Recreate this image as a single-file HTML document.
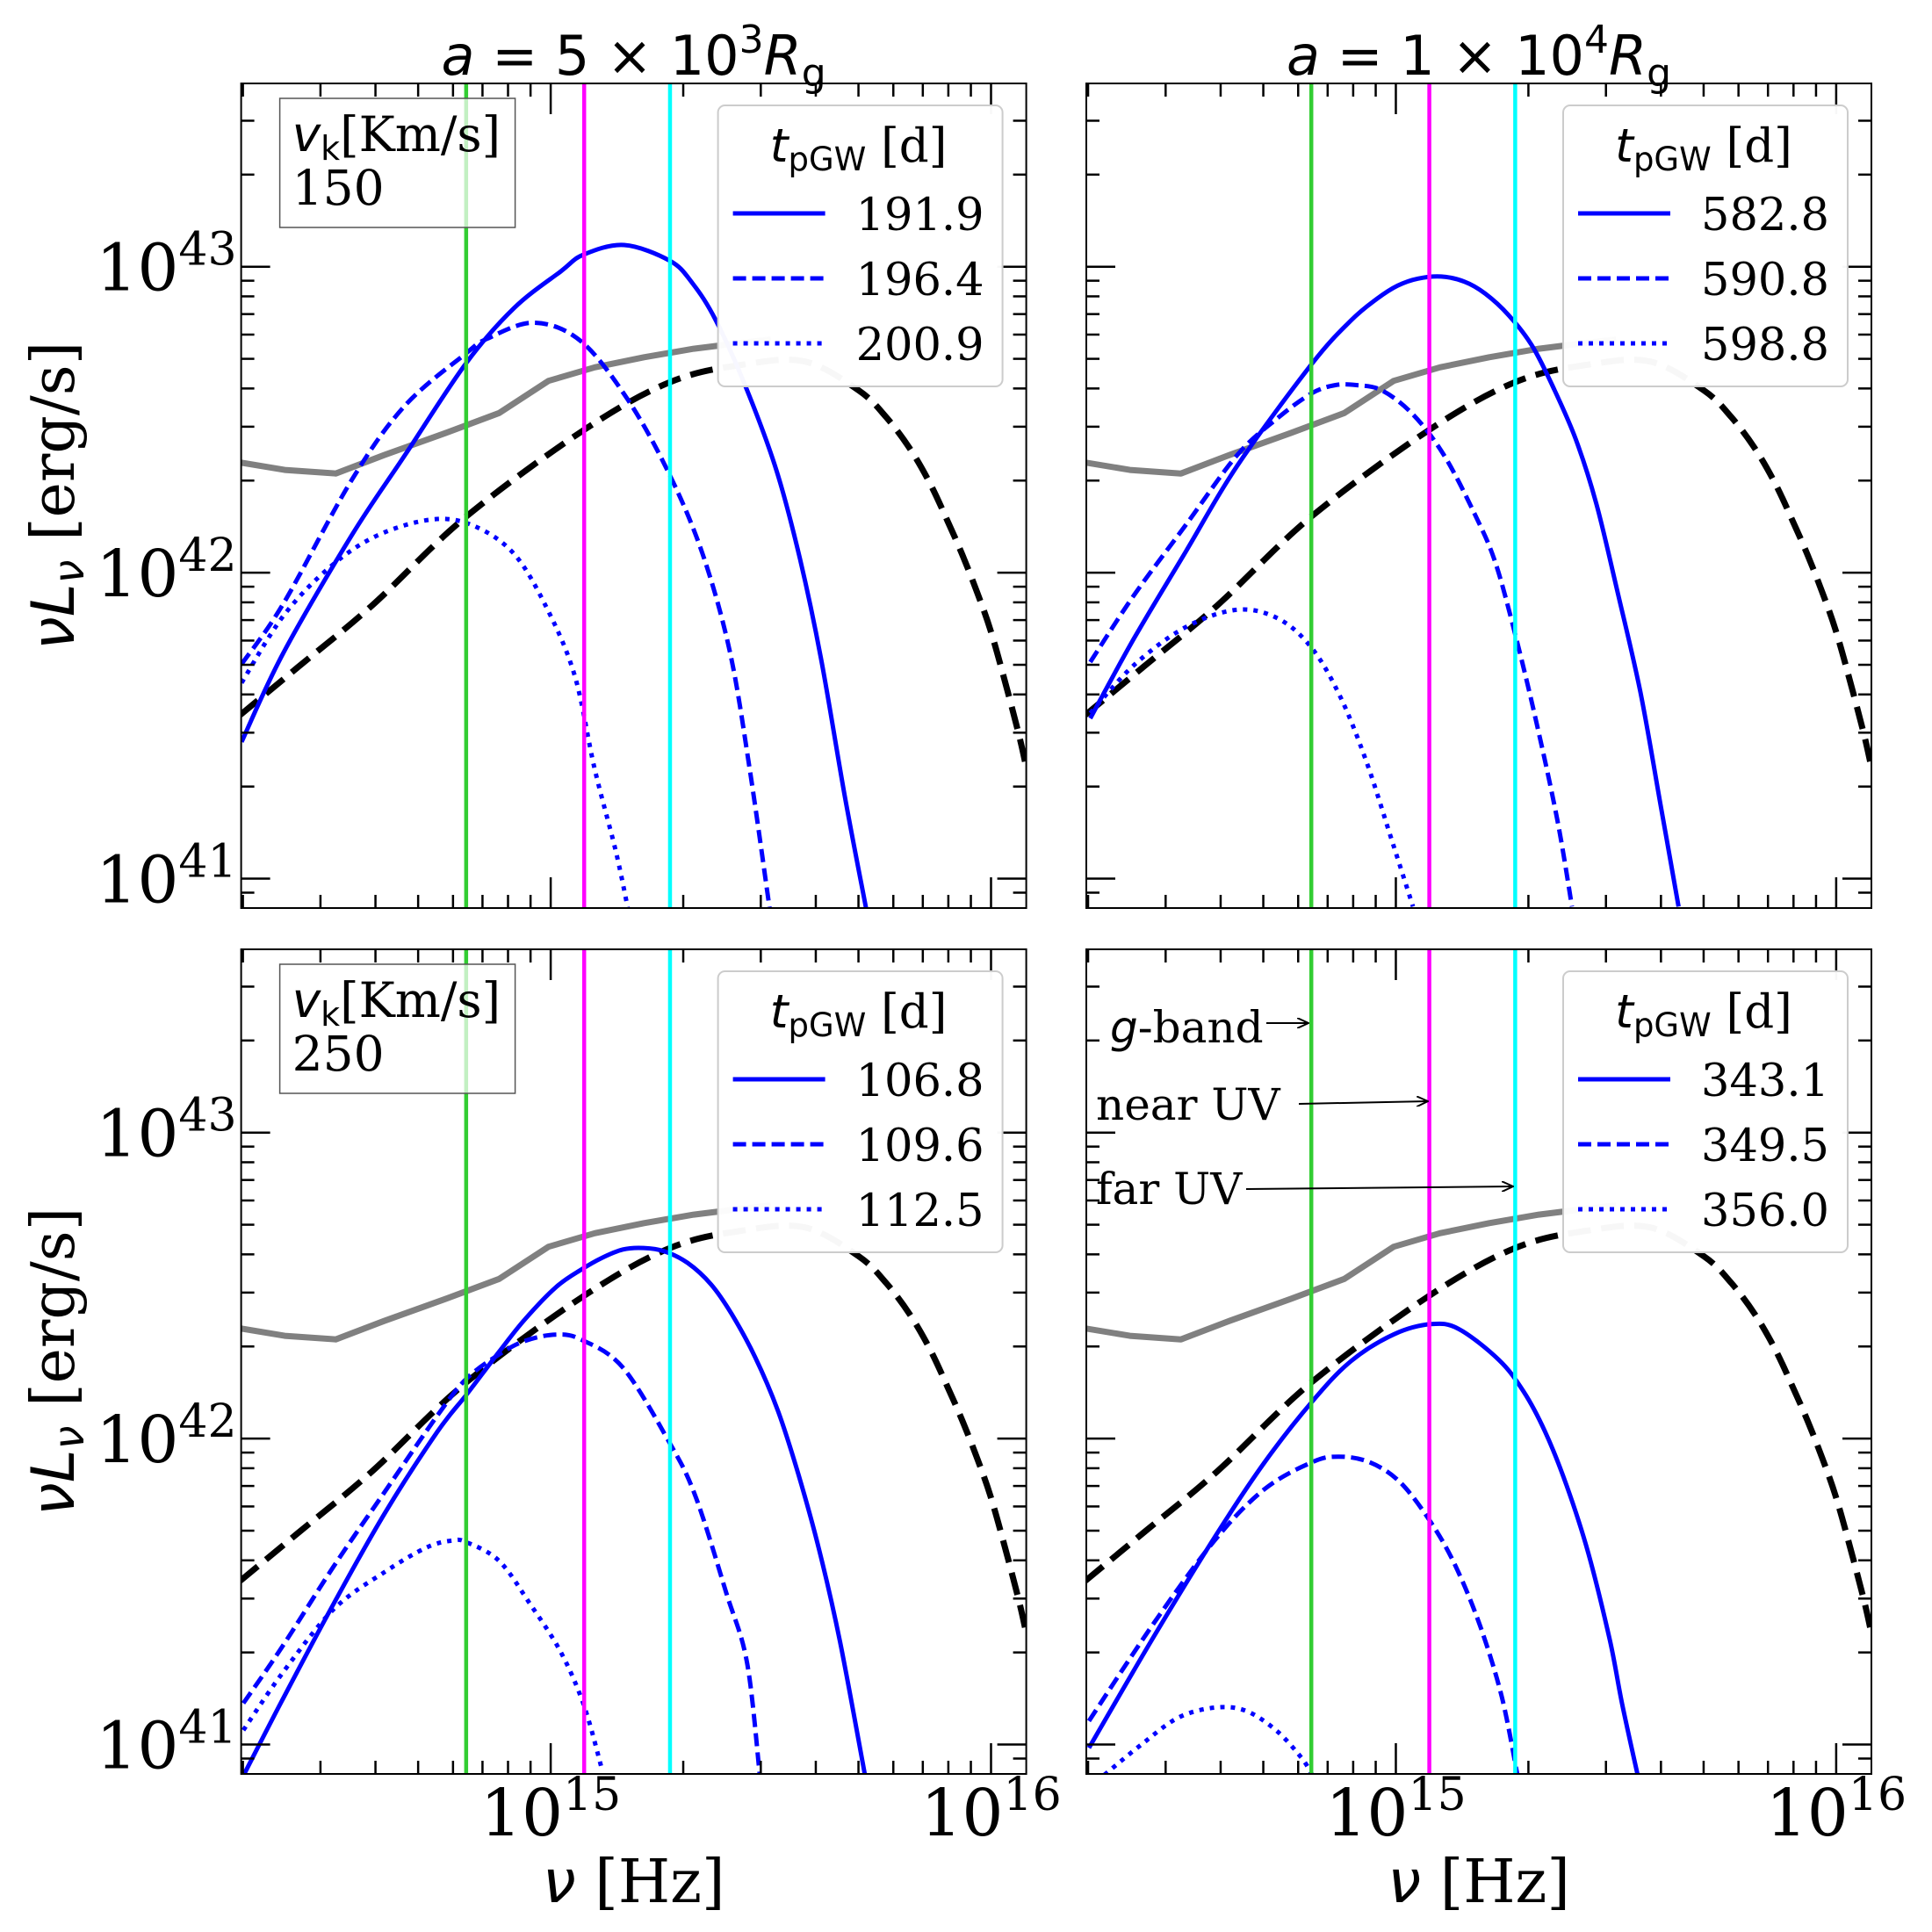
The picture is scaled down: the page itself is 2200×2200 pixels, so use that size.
<!DOCTYPE html>
<html><head><meta charset="utf-8"><style>
html,body{margin:0;padding:0;background:#fff;}
svg{display:block;}
.serif{font-family:"DejaVu Serif","Liberation Serif",serif;}
.sans{font-family:"DejaVu Sans","Liberation Sans",sans-serif;}
</style></head><body>
<svg id="chart" xmlns="http://www.w3.org/2000/svg" width="2200" height="2200" viewBox="0 0 2200 2200">
<rect width="2200" height="2200" fill="#fff"/>
</svg>
<script>
// ---- data (log10 nu [Hz], log10 nuLnu [erg/s]) ----
const grayNu = [14.295,14.396,14.512,14.621,14.762,14.883,14.995,15.100,15.212,15.325,15.437,15.500];
const grayL  = [42.360,42.336,42.324,42.384,42.457,42.522,42.627,42.671,42.704,42.732,42.752,42.762];
const blackNu = [14.295,14.424,14.593,14.807,15.074,15.271,15.437,15.578,15.700,15.762,15.816,15.861,15.901,15.935,15.969,15.999,16.029,16.063,16.079];
const blackL  = [41.535,41.689,41.891,42.182,42.465,42.623,42.680,42.690,42.595,42.508,42.405,42.293,42.170,42.058,41.934,41.811,41.659,41.472,41.370];
const vlineNu = [14.808,15.076,15.271];
const xTickLabels = ['15','16'];
const yTickLabels = ['41','42','43'];
// panel 1: a=5e3, vk=150
const p1SolidNu = [14.298,14.393,14.548,14.669,14.807,14.917,15.024,15.074,15.167,15.271,15.322,15.375,15.445,15.513,15.566,15.614,15.668,15.716];
const p1SolidL  = [41.447,41.738,42.122,42.384,42.683,42.865,42.986,43.039,43.071,43.019,42.946,42.825,42.600,42.333,42.046,41.719,41.269,40.905];
const p1DashNu = [14.298,14.393,14.548,14.669,14.807,14.855,14.962,15.069,15.175,15.269,15.345,15.407,15.452,15.497];
const p1DashL  = [41.701,41.899,42.303,42.546,42.716,42.764,42.817,42.756,42.566,42.323,42.061,41.741,41.358,40.905];
const p1DotNu = [14.298,14.393,14.500,14.607,14.731,14.824,14.917,14.993,15.055,15.100,15.147,15.175];
const p1DotL  = [41.640,41.859,42.020,42.122,42.174,42.154,42.061,41.879,41.661,41.358,41.095,40.905];
const p1Times = ['191.9','196.4','200.9'];
// panel 2: a=1e4, vk=150
const p2SolidNu = [14.306,14.406,14.523,14.640,14.810,14.898,14.957,15.004,15.050,15.103,15.156,15.203,15.256,15.308,15.355,15.408,15.455,15.502,15.555,15.601,15.642];
const p2SolidL  = [41.524,41.787,42.069,42.350,42.684,42.824,42.895,42.938,42.961,42.968,42.951,42.912,42.842,42.745,42.613,42.438,42.227,41.946,41.612,41.243,40.909];
const p2DashNu = [14.306,14.406,14.523,14.640,14.734,14.810,14.863,14.910,14.968,15.039,15.109,15.179,15.226,15.273,15.320,15.367,15.400];
const p2DashL  = [41.708,41.928,42.156,42.385,42.508,42.587,42.613,42.613,42.596,42.517,42.385,42.192,42.033,41.787,41.506,41.190,40.909];
const p2DotNu = [14.306,14.406,14.523,14.640,14.734,14.810,14.874,14.933,14.992,15.039];
const p2DotL  = [41.541,41.699,41.822,41.879,41.849,41.752,41.594,41.383,41.120,40.909];
const p2Times = ['582.8','590.8','598.8'];
// panel 3: a=5e3, vk=250
const p3SolidNu = [14.302,14.390,14.507,14.624,14.742,14.809,14.883,14.941,15.012,15.070,15.117,15.164,15.211,15.258,15.311,15.364,15.411,15.464,15.516,15.563,15.610,15.657,15.714];
const p3SolidL  = [40.898,41.144,41.460,41.758,42.021,42.144,42.284,42.389,42.495,42.553,42.591,42.618,42.623,42.612,42.574,42.504,42.407,42.267,42.091,41.881,41.635,41.337,40.898];
const p3DashNu = [14.302,14.390,14.507,14.624,14.742,14.809,14.883,14.941,15.012,15.070,15.164,15.270,15.329,15.399,15.446,15.475];
const p3DashL  = [41.135,41.319,41.582,41.828,42.074,42.196,42.275,42.319,42.340,42.323,42.232,41.986,41.811,41.495,41.267,40.898];
const p3DotNu = [14.302,14.390,14.507,14.624,14.718,14.777,14.809,14.883,14.953,15.023,15.076,15.117];
const p3DotL  = [41.047,41.232,41.442,41.565,41.644,41.667,41.661,41.600,41.460,41.302,41.126,40.916];
const p3Times = ['106.8','109.6','112.5'];
// panel 4: a=1e4, vk=250
const p4SolidNu = [14.303,14.450,14.590,14.702,14.810,14.898,14.996,15.080,15.143,15.234,15.290,15.339,15.388,15.437,15.486,15.514,15.549];
const p4SolidL  = [40.989,41.352,41.681,41.923,42.121,42.253,42.341,42.374,42.358,42.257,42.154,42.022,41.846,41.626,41.341,41.132,40.901];
const p4DashNu = [14.303,14.450,14.590,14.702,14.810,14.870,14.940,15.010,15.080,15.136,15.192,15.241,15.276];
const p4DashL  = [41.077,41.396,41.670,41.835,41.923,41.941,41.923,41.857,41.725,41.582,41.385,41.154,40.901];
const p4DotNu = [14.338,14.422,14.506,14.590,14.660,14.730,14.786,14.810];
const p4DotL  = [40.901,41.000,41.088,41.121,41.110,41.044,40.956,40.901];
const p4Times = ['343.1','349.5','356.0'];

const XMIN=14.297, XMAX=16.080, YMIN=40.904, YMAX=43.599;
const PW=894, PH=939;
const NS='http://www.w3.org/2000/svg';
const svg=document.getElementById('chart');
function el(tag,attrs,parent){const e=document.createElementNS(NS,tag);for(const k in attrs)e.setAttribute(k,attrs[k]);(parent||svg).appendChild(e);return e;}

function smoothPath(P){
  let d='M'+P[0][0].toFixed(1)+' '+P[0][1].toFixed(1);
  for(let i=0;i<P.length-1;i++){
    const p0=P[Math.max(0,i-1)],p1=P[i],p2=P[i+1],p3=P[Math.min(P.length-1,i+2)];
    const c1=[p1[0]+(p2[0]-p0[0])/6,p1[1]+(p2[1]-p0[1])/6];
    const c2=[p2[0]-(p3[0]-p1[0])/6,p2[1]-(p3[1]-p1[1])/6];
    d+=' C'+c1[0].toFixed(1)+' '+c1[1].toFixed(1)+' '+c2[0].toFixed(1)+' '+c2[1].toFixed(1)+' '+p2[0].toFixed(1)+' '+p2[1].toFixed(1);
  }
  return d;
}
function straightPath(P){return P.map((q,i)=>(i?'L':'M')+q[0].toFixed(1)+' '+q[1].toFixed(1)).join(' ');}

const panels=[
 {id:'p1',x0:274.6,y0:95,left:true,bottom:false,sn:p1SolidNu,sl:p1SolidL,dn:p1DashNu,dl:p1DashL,on:p1DotNu,ol:p1DotL,times:p1Times,vk:'150',title:'5'},
 {id:'p2',x0:1237,y0:95,left:false,bottom:false,sn:p2SolidNu,sl:p2SolidL,dn:p2DashNu,dl:p2DashL,on:p2DotNu,ol:p2DotL,times:p2Times,title:'1'},
 {id:'p3',x0:274.6,y0:1081,left:true,bottom:true,sn:p3SolidNu,sl:p3SolidL,dn:p3DashNu,dl:p3DashL,on:p3DotNu,ol:p3DotL,times:p3Times,vk:'250'},
 {id:'p4',x0:1237,y0:1081,left:false,bottom:true,sn:p4SolidNu,sl:p4SolidL,dn:p4DashNu,dl:p4DashL,on:p4DotNu,ol:p4DotL,times:p4Times,annot:true}
];

panels.forEach((p,idx)=>{
  const xs=v=>p.x0+(v-XMIN)/(XMAX-XMIN)*PW;
  const ys=v=>p.y0+(YMAX-v)/(YMAX-YMIN)*PH;
  const g=el('g',{});
  
  
  const cp=el('clipPath',{id:'clip'+idx},g);
  el('rect',{x:p.x0,y:p.y0,width:PW,height:PH},cp);
  const plot=el('g',{'clip-path':'url(#clip'+idx+')'},g);
  function line(nu,L,attrs,name,straight){
    const pts=nu.map((v,i)=>[xs(v),ys(L[i])]);
    const pa=el('path',Object.assign({d:straight?straightPath(pts):smoothPath(pts),fill:'none','stroke-linejoin':'round'},attrs),plot);
    
    
  }
  line(grayNu,grayL,{stroke:'#808080','stroke-width':7},'gray-reference-line',true);
  line(blackNu,blackL,{stroke:'#000','stroke-width':7,'stroke-dasharray':'26 12'},'black-dashed-line');
  line(p.sn,p.sl,{stroke:'#0000ff','stroke-width':5},'series-solid');
  line(p.dn,p.dl,{stroke:'#0000ff','stroke-width':5,'stroke-dasharray':'15 7'},'series-dashed');
  line(p.on,p.ol,{stroke:'#0000ff','stroke-width':5,'stroke-dasharray':'5 7'},'series-dotted');
  const vcol=['#32cd32','#ff00ff','#00ffff'], vnames=['g-band-line','near-uv-line','far-uv-line'];
  vlineNu.forEach((v,i)=>{
    const l=el('line',{x1:xs(v),x2:xs(v),y1:p.y0,y2:p.y0+PH,stroke:vcol[i],'stroke-width':4.5},plot);
    
    
  });
  const fr=el('rect',{x:p.x0,y:p.y0,width:PW,height:PH,fill:'none',stroke:'#000','stroke-width':2},g);
  
  
  const tk=el('g',{stroke:'#000','stroke-width':2.5},g);
  
  
  for(let n=14;n<=16;n++){for(let m=1;m<=9;m++){const v=n+Math.log10(m);if(v<XMIN||v>XMAX)continue;const len=m===1?35:15;const x=xs(v);
    el('line',{x1:x,x2:x,y1:p.y0+PH,y2:p.y0+PH-len},tk);el('line',{x1:x,x2:x,y1:p.y0,y2:p.y0+len},tk);}}
  for(let n=40;n<=43;n++){for(let m=1;m<=9;m++){const v=n+Math.log10(m);if(v<YMIN||v>YMAX)continue;const len=m===1?33:15;const y=ys(v);
    el('line',{x1:p.x0,x2:p.x0+len,y1:y,y2:y},tk);el('line',{x1:p.x0+PW,x2:p.x0+PW-len,y1:y,y2:y},tk);}}
  if(p.left){
    yTickLabels.forEach(t=>{const y=ys(+t);
      const tx=el('text',{x:p.x0-5,y:y+27,'text-anchor':'end','font-size':74,class:'serif'},g);
      
      
      tx.innerHTML='10<tspan font-size="52" dy="-29">'+t+'</tspan>';});
    const yl=el('text',{transform:'translate(84,'+(p.y0+PH/2)+') rotate(-90)','text-anchor':'middle','font-size':68,class:'serif'},g);
    
    
    yl.innerHTML='<tspan class="sans" font-style="italic">νL</tspan><tspan class="sans" font-style="italic" font-size="48" dy="11">ν</tspan><tspan dy="-11"> [erg/s]</tspan>';
  }
  if(p.bottom){
    xTickLabels.forEach(t=>{const x=xs(+t);
      const tx=el('text',{x:x,y:p.y0+PH+70,'text-anchor':'middle','font-size':74,class:'serif'},g);
      
      
      tx.innerHTML='10<tspan font-size="52" dy="-29">'+t+'</tspan>';});
    const xl=el('text',{x:p.x0+PW/2,y:p.y0+PH+146,'text-anchor':'middle','font-size':68,class:'serif'},g);
    
    
    xl.innerHTML='<tspan class="sans" font-style="italic">ν</tspan> [Hz]';
  }
  if(p.title){
    const tt=el('text',{x:p.x0+PW/2,y:85,'text-anchor':'middle','font-size':62,class:'sans'},g);
    
    
    tt.innerHTML='<tspan font-style="italic">a</tspan> = '+p.title+' × 10<tspan font-size="44" dy="-25">'+(p.title==='5'?'3':'4')+'</tspan><tspan dy="25" font-style="italic">R</tspan><tspan font-size="44" dy="13">g</tspan>';
  }
  if(p.vk){
    const bx=el('g',{},g);
    
    
    el('rect',{x:p.x0+44,y:p.y0+17,width:268,height:147,fill:'#fff','fill-opacity':0.7,stroke:'#555','stroke-width':1.5},bx);
    const t1=el('text',{x:p.x0+58,y:p.y0+77,'font-size':55,class:'serif'},bx);
    t1.innerHTML='<tspan class="sans" font-style="italic">v</tspan><tspan class="sans" font-size="38" dy="10">k</tspan><tspan dy="-10">[Km/s]</tspan>';
    const t2=el('text',{x:p.x0+58,y:p.y0+138,'font-size':55,class:'serif'},bx);
    t2.textContent=p.vk;
  }
  const lx=p.x0+543, ly=p.y0+25;
  const lg=el('g',{},g);
  
  
  el('rect',{x:lx,y:ly,width:324,height:320,rx:8,fill:'#fff','fill-opacity':0.97,stroke:'#ccc','stroke-width':2},lg);
  const lt=el('text',{x:lx+160,y:ly+64,'text-anchor':'middle','font-size':53,class:'serif'},lg);
  lt.innerHTML='<tspan class="sans" font-style="italic">t</tspan><tspan class="sans" font-size="37" dy="10">pGW</tspan><tspan dy="-10"> [d]</tspan>';
  const dashes=['none','15 7','5 7'];
  p.times.forEach((t,i)=>{
    const yy=ly+123+i*74;
    const ent=el('g',{},lg);
    
    
    const ln=el('line',{x1:lx+17,x2:lx+122,y1:yy,y2:yy,stroke:'#0000ff','stroke-width':5},ent);
    if(dashes[i]!=='none')ln.setAttribute('stroke-dasharray',dashes[i]);
    const tx=el('text',{x:lx+157,y:yy+19,'font-size':51,class:'serif'},ent);
    tx.textContent=t;
  });
  if(p.annot){
    const an=el('g',{'font-size':50,class:'serif'},g);
    
    
    const defs=el('defs',{},an);
    const mk=el('marker',{id:'arr',markerWidth:14,markerHeight:12,refX:13,refY:6,orient:'auto',markerUnits:'userSpaceOnUse'},defs);
    el('path',{d:'M0 0 L13 6 L0 12',fill:'none',stroke:'#000','stroke-width':2},mk);
    const a1=el('text',{x:1264,y:1187},an); a1.innerHTML='<tspan class="sans" font-style="italic">g</tspan>-band';
    el('line',{x1:1442,y1:1165,x2:1490,y2:1165,stroke:'#000','stroke-width':2,'marker-end':'url(#arr)'},an);
    const a2=el('text',{x:1248,y:1275},an); a2.textContent='near UV';
    el('line',{x1:1479,y1:1257,x2:1626,y2:1254,stroke:'#000','stroke-width':2,'marker-end':'url(#arr)'},an);
    const a3=el('text',{x:1248,y:1371},an); a3.textContent='far UV';
    el('line',{x1:1419,y1:1354,x2:1723,y2:1351,stroke:'#000','stroke-width':2,'marker-end':'url(#arr)'},an);
  }
});
</script>
</body></html>
